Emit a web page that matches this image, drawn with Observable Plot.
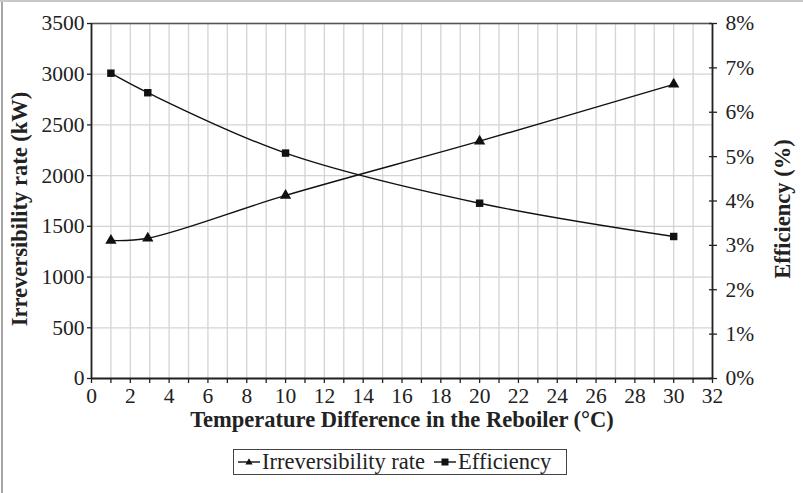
<!DOCTYPE html>
<html>
<head>
<meta charset="utf-8">
<script src="https://cdn.jsdelivr.net/npm/d3@7"></script>
<script src="https://cdn.jsdelivr.net/npm/@observablehq/plot@0.6"></script>
<style>
  html, body { margin: 0; padding: 0; background: #fff; }
  #wrap { position: relative; width: 803px; height: 493px; overflow: hidden; font-family: "Liberation Serif", "Times New Roman", serif; }
  #chart svg { font-family: "Liberation Serif", "Times New Roman", serif; }
  #chart svg [aria-label$="tick label"],
  #chart svg [aria-label$="tick label"] text {
    font-family: "Liberation Serif", "Times New Roman", serif;
    font-size: 21.5px;
    fill: #222;
  }
  #frameLeft { position: absolute; left: 1px; top: 0; width: 2px; height: 493px; background: #a6a6a6; }
  #frameTop { position: absolute; left: 0; top: 0; width: 803px; height: 2px; background: #c8c8c8; }
  #legend { position: absolute; left: 233px; top: 449px; width: 332px; height: 24px; border: 1.5px solid #444; box-sizing: content-box;
            display: flex; align-items: center; font-size: 22.5px; color: #222; white-space: nowrap; line-height: 1; }
  #legend svg { margin: 0 1px 0 3px; }
  #legend .item { display: flex; align-items: center; }
</style>
</head>
<body>
<div id="wrap">
  <div id="chart"></div>
  <div id="frameLeft"></div>
  <div id="frameTop"></div>
  <div id="legend"></div>
</div>
<script>
// Temperature difference in the reboiler (°C)
const deltaT = [1, 2.9, 10, 20, 30];
// Irreversibility rate (kW)
const irreversibility = [1360, 1383, 1805, 2340, 2900];
// Efficiency (%)
const efficiency = [6.88, 6.44, 5.08, 3.95, 3.20];

const xTicks = d3.range(0, 33, 1);
const yTicks = d3.range(0, 3501, 500);
const effTicks = d3.range(0, 9, 1);

const seriesNames = ["Irreversibility rate", "Efficiency"];

// efficiency shares the left scale: 8% sits at the top (3500 kW)
const kwPerPct = 3500 / 8;

const rows = deltaT.map((t, i) => ({t, irr: irreversibility[i], eff: efficiency[i]}));

const font = "Liberation Serif, Times New Roman, serif";
const tickFont = {fontFamily: font, fontSize: 21.5, fill: "#222"};
const titleFont = {fontFamily: font, fontSize: 22.5, fontWeight: "bold", fill: "#222", textAnchor: "middle"};

const chart = Plot.plot({
  width: 803,
  height: 493,
  marginLeft: 91,
  marginRight: 91,
  marginTop: 23,
  marginBottom: 115,
  style: {fontFamily: font, fontSize: "21px", color: "#222", background: "transparent"},
  x: {domain: [0, 32]},
  y: {domain: [0, 3500]},
  marks: [
    // grid
    Plot.gridX(xTicks, {stroke: "#d4d4d4", strokeOpacity: 1, strokeWidth: 1.3}),
    Plot.gridY(yTicks, {stroke: "#d4d4d4", strokeOpacity: 1, strokeWidth: 1.3}),
    // frame lines
    Plot.ruleY([3500], {stroke: "#555", strokeWidth: 1.6}),
    Plot.ruleX([0], {stroke: "#222", strokeWidth: 1.8}),
    Plot.ruleX([32], {stroke: "#222", strokeWidth: 1.8}),
    Plot.ruleY([0], {stroke: "#222", strokeWidth: 1.8}),
    // axes
    Plot.axisX(xTicks, {tickSize: 5, tickPadding: 4, tickFormat: d => d % 2 === 0 ? String(d) : "", label: null, strokeWidth: 1.3, ...tickFont}),
    Plot.axisY(yTicks, {tickSize: 4, tickPadding: 3, tickFormat: d => String(d), label: null, strokeWidth: 1.3, ...tickFont}),
    Plot.axisY(effTicks.map(k => k * kwPerPct), {anchor: "right", tickSize: 8, insetRight: 4, tickPadding: 9,
      tickFormat: v => Math.round(v / kwPerPct) + "%", label: null, strokeWidth: 1.3, ...tickFont}),
    // axis titles
    Plot.text(["Temperature Difference in the Reboiler (°C)"], {frameAnchor: "bottom", dy: 48, ...titleFont}),
    Plot.text(["Irreversibility rate (kW)"], {frameAnchor: "left", rotate: -90, dx: -72, dy: 8, ...titleFont}),
    Plot.text(["Efficiency (%)"], {frameAnchor: "right", rotate: -90, dx: 70, dy: 8, ...titleFont}),
    // series
    Plot.line(rows, {x: "t", y: "irr", curve: "catmull-rom", stroke: "#111", strokeWidth: 1.4}),
    Plot.dot(rows, {x: "t", y: "irr", symbol: "triangle", r: 4.2, fill: "#111"}),
    Plot.line(rows, {x: "t", y: d => d.eff * kwPerPct, curve: "catmull-rom", stroke: "#111", strokeWidth: 1.4}),
    Plot.dot(rows, {x: "t", y: d => d.eff * kwPerPct, symbol: "square", r: 4.2, fill: "#111"})
  ]
});
document.getElementById("chart").appendChild(chart);

// legend
const legend = document.getElementById("legend");
const glyphs = [
  '<svg width="24" height="12"><line x1="1" y1="6" x2="23" y2="6" stroke="#111" stroke-width="1.4"/><path d="M12,2.2L15.6,8.6L8.4,8.6Z" fill="#111"/></svg>',
  '<svg width="24" height="12"><line x1="1" y1="6" x2="23" y2="6" stroke="#111" stroke-width="1.4"/><rect x="8.5" y="2.5" width="7" height="7" fill="#111"/></svg>'
];
seriesNames.forEach((name, i) => {
  const item = document.createElement("span");
  item.className = "item";
  item.innerHTML = glyphs[i] + "<span>" + name + "</span>";
  if (i > 0) item.style.marginLeft = "5px";
  legend.appendChild(item);
});
</script>
</body>
</html>
